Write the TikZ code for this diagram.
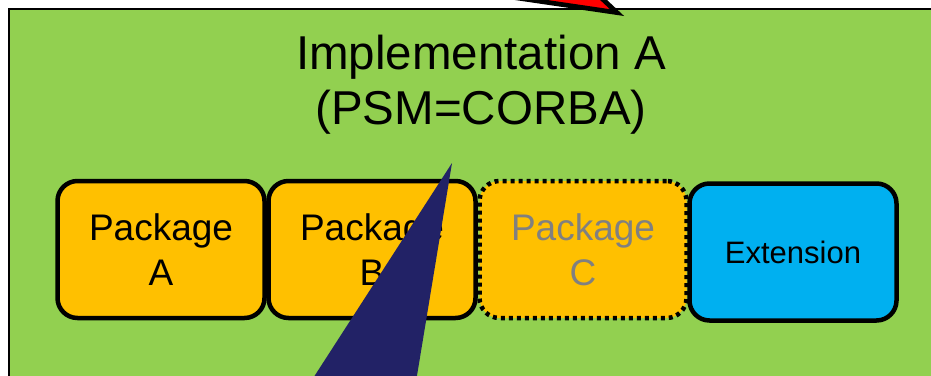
\documentclass[tikz,border=0pt]{standalone}
\usepackage{fontspec}
\setmainfont{Liberation Sans}
\definecolor{bggreen}{RGB}{146,208,80}
\definecolor{pkgorange}{RGB}{255,192,0}
\definecolor{extblue}{RGB}{0,176,240}
\definecolor{navy}{RGB}{34,34,102}
\definecolor{pkggray}{RGB}{128,128,128}
\tikzset{
  pkgbox/.style={draw=black, line width=4.5pt, fill=pkgorange, rounded corners=20pt,
    minimum width=207pt, minimum height=137pt, align=center, inner sep=0pt,
    font=\fontsize{37}{45}\selectfont},
  dotbox/.style={pkgbox, dash pattern=on 4pt off 4pt, text=pkggray},
  extbox/.style={pkgbox, fill=extblue, font=\fontsize{31}{37}\selectfont},
  titletext/.style={align=center, inner sep=0pt, font=\fontsize{47.5}{55}\selectfont}
}
\begin{document}
\begin{tikzpicture}[x=1pt,y=-1pt]
\useasboundingbox (0,0) rectangle (931,375);
\clip (0,0) rectangle (931,375);
\fill[white] (0,0) rectangle (931,375);
% green container
\draw[line width=2.8pt, fill=bggreen] (9,9) rectangle (980,420);
% title
\node[titletext] (title) at (481,85) {Implementation A\\(PSM=CORBA)};
% packages
\node[pkgbox] (pa) at (161,249.5) {Package\\A};
\node[pkgbox] (pb) at (372,249.5) {Package\\B};
\node[dotbox] (pc) at (583,249.5) {Package\\C};
\node[extbox] (ext) at (793,252) {Extension};
% navy callout pointer
\coordinate (navytip) at (452,163);
\fill[navy] (navytip) -- (299,400) -- (413,400) -- cycle;
% red callout pointer
\coordinate (redtip) at (617,12.6);
\draw[line width=4.7pt, fill=red, miter limit=10] (redtip) -- (531-6.81*20,-20) -- (603.5-1.0625*20,-20) -- cycle;
\end{tikzpicture}
\end{document}
